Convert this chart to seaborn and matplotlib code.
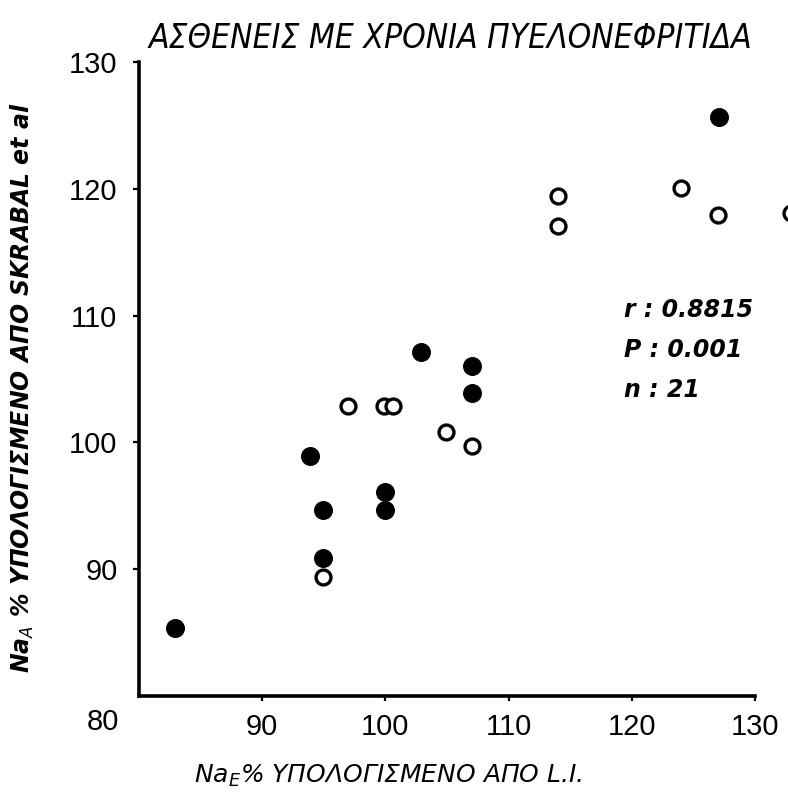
import matplotlib
matplotlib.use("Agg")
import matplotlib.pyplot as plt
import seaborn as sns
import pandas as pd

# Data
filled_x = [82.9, 93.9, 94.9, 94.9, 100.0, 100.0, 102.9, 107.0, 107.0, 127.1]
filled_y = [85.4, 98.9, 94.7, 90.9, 96.1, 94.7, 107.1, 106.0, 103.9, 125.7]
open_x = [94.9, 97.0, 99.9, 100.6, 104.9, 107.0, 114.0, 114.0, 124.0, 127.0, 132.9]
open_y = [89.4, 102.9, 102.9, 102.9, 100.8, 99.7, 119.4, 117.1, 120.1, 117.9, 118.1]
x_ticks = [90, 100, 110, 120, 130]
y_ticks = [90, 100, 110, 120, 130]
title = "ΑΣΘΕΝΕΙΣ ΜΕ ΧΡΟΝΙΑ ΠΥΕΛΟΝΕΦΡΙΤΙΔΑ"
xlabel = "Na$_E$% ΥΠΟΛΟΓΙΣΜΕΝΟ ΑΠΟ L.I."
ylabel = "Na$_A$ % ΥΠΟΛΟΓΙΣΜΕΝΟ ΑΠΟ SKRABAL et al"
stats_lines = ["r : 0.8815", "P : 0.001", "n : 21"]

df_f = pd.DataFrame({"x": filled_x, "y": filled_y})
df_o = pd.DataFrame({"x": open_x, "y": open_y})

sns.set_style("ticks", {"axes.edgecolor": "black", "xtick.color": "black",
                        "ytick.color": "black", "text.color": "black",
                        "axes.labelcolor": "black"})
plt.rcParams["font.family"] = ["DejaVu Sans"]

fig = plt.figure(figsize=(7.88, 8.07), dpi=100)
ax = fig.add_axes([139/788, 1-696/807, (755-139)/788, (696-62)/807])

sns.scatterplot(data=df_f, x="x", y="y", ax=ax, s=160, color="black",
                edgecolor="black", linewidth=1.0, marker="o", zorder=3)
sns.scatterplot(data=df_o, x="x", y="y", ax=ax, s=115, facecolor="white",
                edgecolor="black", linewidth=2.4, marker="o", zorder=3)
for coll in ax.collections:
    coll.set_clip_on(False)

ax.set_xlim(80, 130)
ax.set_ylim(80, 130)
ax.set_xticks(x_ticks)
ax.set_yticks(y_ticks)
ax.set_xticklabels([str(t) for t in x_ticks], fontsize=21, family="Liberation Sans")
ax.set_yticklabels([str(t) for t in y_ticks], fontsize=21, family="Liberation Sans")
ax.tick_params(axis="both", colors="black")
ax.tick_params(axis="x", length=3.5, width=1.6, pad=9, direction="out")
ax.tick_params(axis="y", length=4.5, width=1.6, pad=11, direction="out")
sns.despine(ax=ax)
for side in ["left", "bottom"]:
    ax.spines[side].set_linewidth(2.6)
    ax.spines[side].set_color("black")

ax.set_xlabel(xlabel, fontsize=18, style="italic", color="black")
ax.xaxis.set_label_coords((388-139)/616, (696-776)/634)
ax.xaxis.label.set_verticalalignment("center")
ax.set_ylabel(ylabel, fontsize=17, style="italic", fontweight="bold", color="black")
ax.yaxis.set_label_coords((22-139)/616, (696-388)/634)
ax.yaxis.label.set_verticalalignment("center")

fig.text(450/788, 1-38/807, title, fontsize=24, style="italic", color="black",
         ha="center", va="center", fontstretch="condensed")
fig.text(103/788, 1-722/807, "80", fontsize=21, family="Liberation Sans",
         color="black", ha="center", va="center")

for i, line in enumerate(stats_lines):
    fig.text(624/788, 1-(310+40*i)/807, line, fontsize=17, style="italic",
             fontweight="bold", color="black", ha="left", va="center")

fig.savefig("out.png", dpi=100)
